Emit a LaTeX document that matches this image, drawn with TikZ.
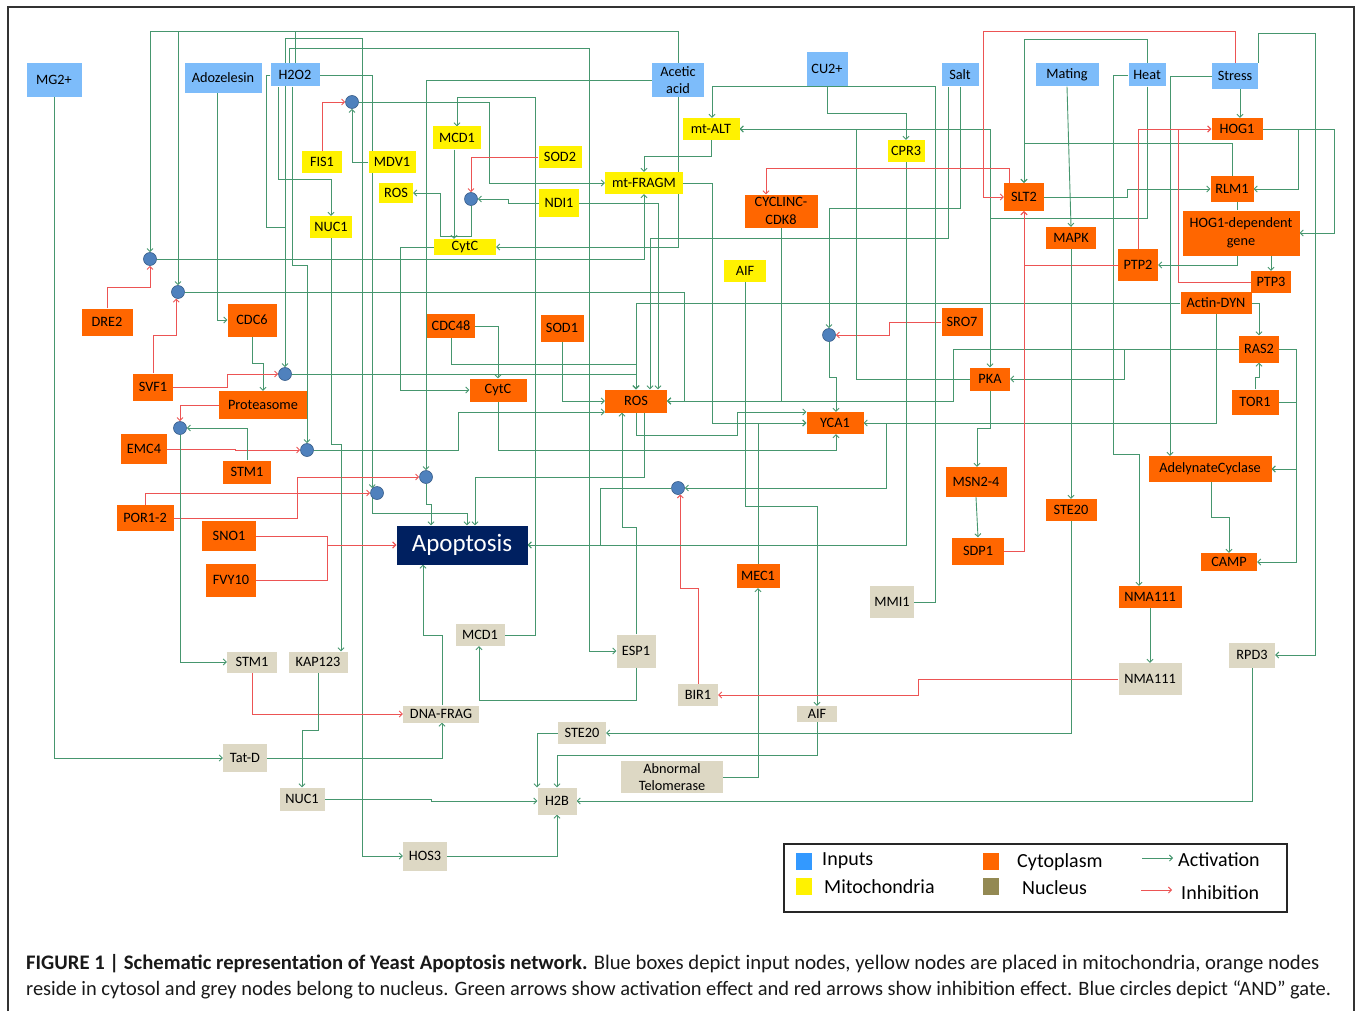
\documentclass[tikz,border=0pt]{standalone}
\usepackage{fontspec}
\setmainfont{Carlito}
\usetikzlibrary{arrows.meta}
\pgfdeclarelayer{bg}
\pgfsetlayers{bg,main}
\definecolor{cInp}{RGB}{125,188,250}
\definecolor{cMit}{RGB}{255,242,0}
\definecolor{cCyt}{RGB}{255,102,0}
\definecolor{cNuc}{RGB}{221,216,196}
\definecolor{cGate}{RGB}{79,129,189}
\definecolor{cGateD}{RGB}{56,93,138}
\definecolor{cAct}{RGB}{70,150,110}
\definecolor{cInh}{RGB}{236,84,84}
\definecolor{cApo}{RGB}{0,32,96}
\definecolor{cLBlue}{RGB}{51,153,255}
\definecolor{cLOlive}{RGB}{147,137,83}
\newcommand\nodefnt{\fontsize{14.3}{17.5}\selectfont}
\begin{document}
\begin{tikzpicture}[x=1pt,y=-1pt,
  nbox/.style={inner sep=0pt, font=\nodefnt, align=center, text=black},
  wh/.style 2 args={minimum width=#1pt, minimum height=#2pt},
  ninp/.style={nbox, fill=cInp},
  nmit/.style={nbox, fill=cMit},
  ncyt/.style={nbox, fill=cCyt},
  nnuc/.style={nbox, fill=cNuc},
  andgate/.style={circle, fill=cGate, draw=cGateD, line width=0.6pt, minimum size=13pt, inner sep=0pt},
  actarr/.style={draw=cAct, line width=0.9pt, -{Straight Barb[length=3pt,width=6pt]}},
  inharr/.style={draw=cInh, line width=0.9pt, -{Straight Barb[length=3pt,width=6pt]}},
  actline/.style={draw=cAct, line width=0.9pt},
  legtxt/.style={anchor=west, inner sep=0pt, font=\fontsize{20}{22}\selectfont, text=black}
]
\useasboundingbox (0,0) rectangle (1356,1011);
\draw[line width=1.3pt, black!80] (8,1011) -- (8,7) -- (1354,7) -- (1354,1011);

% ---------- inputs
\node[ninp, wh={55}{34}] (mg) at (54,80) {MG2+};
\node[ninp, wh={77}{30}] (ado) at (223,78) {Adozelesin};
\node[ninp, wh={49}{23}] (hoo) at (295,75) {H2O2};
\node[ninp, wh={52}{34}] (acet) at (678,80) {Acetic\\acid};
\node[ninp, wh={41}{34}] (cu) at (827,69) {CU2+};
\node[ninp, wh={37}{23}] (salt) at (960,75) {Salt};
\node[ninp, wh={63}{23}] (mating) at (1067,75) {Mating};
\node[ninp, wh={37}{23}] (heat) at (1147,75) {Heat};
\node[ninp, wh={46}{26}] (stress) at (1235,76) {Stress};

% ---------- mitochondria
\node[nmit, wh={40}{22}] (fis) at (322,162) {FIS1};
\node[nmit, wh={47}{22}] (mdv) at (392,162) {MDV1};
\node[nmit, wh={34}{19}] (rosm) at (396,193) {ROS};
\node[nmit, wh={42}{22}] (nucm) at (331,227) {NUC1};
\node[nmit, wh={48}{23}] (mcdm) at (457,138) {MCD1};
\node[nmit, wh={43}{22}] (sod2) at (560,157) {SOD2};
\node[nmit, wh={40}{27}] (ndi) at (559,203) {NDI1};
\node[nmit, wh={78}{22}] (mtf) at (644,183) {mt-FRAGM};
\node[nmit, wh={62}{16}] (cytm) at (465,247) {CytC};
\node[nmit, wh={57}{22}] (mtalt) at (711,129) {mt-ALT};
\node[nmit, wh={37}{22}] (cpr) at (906,151) {CPR3};
\node[nmit, wh={42}{22}] (aifm) at (745,271) {AIF};

% ---------- cytoplasm
\node[ncyt, wh={73}{33}] (cyc) at (781,211) {CYCLINC-\\CDK8};
\node[ncyt, wh={40}{28}] (slt) at (1024,197) {SLT2};
\node[ncyt, wh={51}{22}] (hog) at (1237,129) {HOG1};
\node[ncyt, wh={43}{26}] (rlm) at (1232,189) {RLM1};
\node[ncyt, wh={117}{45}] (hogd) at (1241,233) {HOG1-dependent\\gene};
\node[ncyt, wh={50}{22}] (mapk) at (1071,238) {MAPK};
\node[ncyt, wh={40}{32}] (ptp2) at (1138,265) {PTP2};
\node[ncyt, wh={40}{22}] (ptp3) at (1271,282) {PTP3};
\node[ncyt, wh={71}{22}] (actin) at (1216,303) {Actin-DYN};
\node[ncyt, wh={41}{28}] (sro) at (962,322) {SRO7};
\node[ncyt, wh={40}{27}] (ras) at (1259,349) {RAS2};
\node[ncyt, wh={40}{23}] (pka) at (990,379) {PKA};
\node[ncyt, wh={47}{25}] (tor) at (1255,402) {TOR1};
\node[ncyt, wh={61}{30}] (msn) at (976,482) {MSN2-4};
\node[ncyt, wh={123}{26}] (adc) at (1210,469) {AdelynateCyclase};
\node[ncyt, wh={51}{22}] (ste20c) at (1071,510) {STE20};
\node[ncyt, wh={52}{27}] (sdp) at (978,551) {SDP1};
\node[ncyt, wh={56}{18}] (camp) at (1229,562) {CAMP};
\node[ncyt, wh={63}{22}] (nmac) at (1150,597) {NMA111};
\node[ncyt, wh={43}{24}] (mec) at (758,576) {MEC1};
\node[ncyt, wh={62}{23}] (rosc) at (636,401) {ROS};
\node[ncyt, wh={57}{22}] (yca) at (835,423) {YCA1};
\node[ncyt, wh={57}{23}] (cytc) at (498,390) {CytC};
\node[ncyt, wh={43}{27}] (sod1) at (562,328) {SOD1};
\node[ncyt, wh={48}{24}] (cdc48) at (451,326) {CDC48};
\node[ncyt, wh={49}{33}] (cdc6) at (252,320) {CDC6};
\node[ncyt, wh={51}{27}] (dre) at (107,322) {DRE2};
\node[ncyt, wh={40}{27}] (svf) at (153,387) {SVF1};
\node[ncyt, wh={88}{28}] (prot) at (263,405) {Proteasome};
\node[ncyt, wh={46}{30}] (emc) at (144,449) {EMC4};
\node[ncyt, wh={48}{23}] (stmc) at (247,472) {STM1};
\node[ncyt, wh={57}{26}] (por) at (145,518) {POR1-2};
\node[ncyt, wh={54}{30}] (sno) at (229,536) {SNO1};
\node[ncyt, wh={50}{33}] (fvy) at (231,580) {FVY10};

\node[nbox, fill=cApo, text=white, wh={131}{39}, font=\fontsize{25}{27}\selectfont] (apo) at (462,545) {Apoptosis};

% ---------- nucleus
\node[nnuc, wh={50}{21}] (stmn) at (252,662) {STM1};
\node[nnuc, wh={59}{21}] (kap) at (318,662) {KAP123};
\node[nnuc, wh={76}{17}] (dna) at (441,714) {DNA-FRAG};
\node[nnuc, wh={44}{28}] (tatd) at (245,758) {Tat-D};
\node[nnuc, wh={45}{23}] (nucn) at (302,799) {NUC1};
\node[nnuc, wh={44}{29}] (hos) at (425,856) {HOS3};
\node[nnuc, wh={49}{22}] (mcdn) at (480,635) {MCD1};
\node[nnuc, wh={39}{33}] (esp) at (636,651) {ESP1};
\node[nnuc, wh={40}{22}] (bir) at (698,695) {BIR1};
\node[nnuc, wh={40}{16}] (aifn) at (817,714) {AIF};
\node[nnuc, wh={48}{22}] (ste20n) at (582,733) {STE20};
\node[nnuc, wh={102}{32}] (abn) at (672,777) {Abnormal\\Telomerase};
\node[nnuc, wh={39}{27}] (h2b) at (557,801) {H2B};
\node[nnuc, wh={44}{32}] (mmi) at (892,602) {MMI1};
\node[nnuc, wh={63}{32}] (naman) at (1150,679) {NMA111};
\node[nnuc, wh={46}{25}] (rpd) at (1252,655) {RPD3};

% ---------- AND gates
\node[andgate] (g1) at (352,102) {};
\node[andgate] (g2) at (471,199) {};
\node[andgate] (g3) at (150,259) {};
\node[andgate] (g4) at (178,292) {};
\node[andgate] (g5) at (285,374) {};
\node[andgate] (g6) at (180,428) {};
\node[andgate] (g7) at (307,450) {};
\node[andgate] (g8) at (426,477) {};
\node[andgate] (g9) at (377,493) {};
\node[andgate] (g10) at (829,335) {};
\node[andgate] (g11) at (678,488) {};

% ---------- connectors
\begin{pgfonlayer}{bg}
\draw[actarr] (acet.north) |- (150,31) -- (g3.north);
\draw[actarr] (hoo.north) |- (178,31) -- (g4.north);
\draw[inharr] (dre.north) |- (150,287) -- (g3.south);
\draw[inharr] (svf.north) |- (g4.-105 |- 0,335) -- (g4.-105);
\draw[actarr] (g3.east) -| (mtf.south);
\draw[actarr] (g4.east) -| (684,401) -- (rosc.east);
\draw[actarr] (ado.south -| 217,0) |- (cdc6.west);
\draw[actarr] (cdc6.south) |- (263,363) -- (prot.north);
\draw[inharr] (svf.east) -| (227,374) -- (g5.west);
\draw[actarr] (hoo.west) -| (266,227) -| (g5.north);
\draw[actarr] (hoo.west) -| (266,227) -- (285,227) |- (362,38) |- (hos.west);
\draw[actarr] (hoo.north -| 289,0) |- (589,48) |- (esp.west);
\draw[actarr] (hoo.south -| 278,0) |- (331,179) -- (nucm.north);
\draw[actarr] (hoo.south -| 292,0) |- (307,265) -- (g7.north);
\draw[actarr] (hoo.east) -| (g9.north west);
\draw[inharr] (fis.north) |- (g1.west);
\draw[actarr] (mdv.west) -| (g1.south);
\draw[actarr] (g1.east) -| (489,183) -- (mtf.west);
\draw[actarr] (mcdn.east) -| (535,97) -| (mcdm.north);
\draw[actarr] (mcdm.south -| 454,0) -- (cytm.north -| 454,0);
\draw[inharr] (sod2.west) -| (g2.north);
\draw[actarr] (ndi.west) -- (508,203) |- (g2.east);
\draw[actarr] (g2.south) |- (440,236) |- (rosm.east);
\draw[actarr] (ndi.east) -| (rosc.north -| 658,0);
\draw[actarr] (mtalt.south) |- (644,156) -- (mtf.north);
\draw[actarr] (mtf.east) -| (712,423) -- (yca.west);
\draw[actarr] (acet.south) |- (cytm.east);
\draw[actarr] (acet.west) -| (g8.north);
\draw[inharr] (por.east) -| (297,477) -- (g8.west);
\draw[inharr] (por.north) |- (g9.west);
\draw[actarr] (g8.south) |- (431,504) -- (apo.north -| 431,0);
\draw[actarr] (g9.south west) |- (467,513) -- (apo.north -| 467,0);
\draw[actarr] (rosc.south -| 644,0) |- (475,477) -- (apo.north -| 475,0);
\draw[actarr] (salt.south -| 948,0) |- (650,238) -- (rosc.north -| 650,0);
\draw[actarr] (salt.south) |- (829,208) -- (g10.north);
\draw[inharr] (sro.west) -| (889,335) -- (g10.east);
\draw[actarr] (g10.south) |- (836,377) -- (yca.north -| 836,0);
\draw[actarr] (cytc.south) |- (836,450) -- (yca.south -| 836,0);
\draw[actarr] (cytm.west) -| (400,390) -- (cytc.west);
\draw[actarr] (cdc48.east) -| (cytc.north);
\draw[actarr] (cdc48.south) |- (636,364) -- (rosc.north -| 636,0);
\draw[actarr] (g5.east) -| (rosc.north -| 636,0);
\draw[actarr] (actin.west) -| (rosc.north -| 636,0);
\draw[actarr] (sod1.south) |- (rosc.west);
\draw[actarr] (g7.east) -| (458,412) -- (rosc.west |- 0,412);
\draw[inharr] (emc.east) -- (235,449) |- (g7.west);
\draw[actarr] (rosc.south) |- (737,435) |- (yca.west |- 0,412);
\draw[actarr] (esp.north) |- (622,527) -- (rosc.south -| 622,0);
\draw[actarr] (esp.south) |- (479,700) -- (mcdn.south -| 479,0);
\draw[actarr] (actin.south) |- (yca.east);
\draw[actarr] (actin.south) |- (886,423) |- (g11.east);
\draw[inharr] (bir.north) |- (g11.-70 |- 0,588) -- (g11.-70);
\draw[actarr] (g11.west) -| (600,545) -- (apo.east);
\draw[actarr] (cpr.south) |- (apo.east);
\draw[actarr] (cu.south) |- (906,113) -- (cpr.north);
\draw[actarr] (mmi.east) -| (935,86) -| (mtalt.north -| 712,0);
\draw[actarr] (cyc.south) |- (rosc.east);
\draw[actarr] (ras.west) -| (953,401) -- (rosc.east);
\draw[actarr] (ras.west) -| (1124,379) -- (pka.east);
\draw[actarr] (pka.west) -| (856,129) -- (mtalt.east);
\draw[actarr] (heat.south) |- (990,218) -- (pka.north);
\draw[actarr] (heat.south) |- (990,218) |- (mtalt.east);
\draw[actarr] (heat.north) |- (1024,39) -- (slt.north);
\draw[actarr] (rlm.north) |- (1024,143) -- (slt.north);
\draw[actarr] (heat.west) -| (1113,454) -| (nmac.north -| 1139,0);
\draw[inharr] (stress.north) |- (983,31) |- (slt.west);
\draw[actarr] (stress.south -| 1240,0) -- (hog.north -| 1240,0);
\draw[actarr] (stress.west) -| (adc.north -| 1170,0);
\draw[actarr] (stress.north -| 1258,0) |- (1315,33) |- (rpd.east);
\draw[actarr] (slt.east) -- (1127,197) |- (rlm.west);
\draw[inharr] (slt.north -| 1009,0) |- (766,168) -- (cyc.north -| 766,0);
\draw[inharr] (ptp2.west) -| (slt.south);
\draw[inharr] (sdp.east) -| (slt.south);
\draw[inharr] (ptp2.north) |- (hog.west);
\draw[inharr] (ptp3.west) -| (1178,129) -- (hog.west);
\draw[actarr] (hog.east) -| (1298,189) -- (rlm.east);
\draw[actarr] (hog.east) -| (1334,233) -- (hogd.east);
\draw[actline] (rlm.south -| 1237,0) -- (hogd.north -| 1237,0);
\draw[actarr] (hogd.south -| 1237,0) |- (ptp2.east);
\draw[actarr] (hogd.south -| 1271,0) -- (ptp3.north);
\draw[actarr] (actin.east) -| (ras.north);
\draw[actarr] (tor.north) |- (1259,377) -- (ras.south);
\draw[actarr] (ras.east) -| (1296,469) -- (adc.east);
\draw[actarr] (ras.east) -| (1296,562) -- (camp.east);
\draw[actarr] (tor.east) -| (1296,469) -- (adc.east);
\draw[actarr] (adc.south -| 1211,0) |- (1229,517) -- (camp.north);
\draw[actarr] (mating.south) -- (mapk.north);
\draw[actarr] (mapk.south) -- (ste20c.north);
\draw[actarr] (pka.south) |- (977,428) -- (msn.north -| 977,0);
\draw[actarr] (msn.south) -- (sdp.north);
\draw[actarr] (ste20c.south) |- (ste20n.east);
\draw[actarr] (ste20n.west) -| (h2b.north -| 537,0);
\draw[actarr] (aifm.south) |- (817,506) -- (aifn.north);
\draw[actarr] (aifn.south) |- (557,755) -- (h2b.north);
\draw[actarr] (abn.east) -| (mec.south);
\draw[actarr] (mec.north) |- (yca.west);
\draw[actarr] (nucn.east) -| (431,801) -- (h2b.west);
\draw[actarr] (hos.east) -| (h2b.south);
\draw[actarr] (rpd.south) |- (h2b.east);
\draw[actarr] (nmac.south) -- (naman.north);
\draw[inharr] (naman.west) -| (918,695) -- (bir.east);
\draw[actarr] (mg.south) |- (tatd.west);
\draw[actarr] (tatd.east) -| (dna.south -| 442,0);
\draw[inharr] (stmn.south) |- (dna.west);
\draw[actarr] (kap.south) |- (302,730) -- (nucn.north);
\draw[actarr] (nucm.south) |- (341,444) -- (kap.north -| 341,0);
\draw[actarr] (dna.north -| 442,0) |- (423,635) -- (apo.south -| 423,0);
\draw[inharr] (sno.east) -| (327,545) -- (apo.west);
\draw[inharr] (fvy.east) -| (327,545) -- (apo.west);
\draw[actarr] (g6.south) |- (stmn.west);
\draw[inharr] (prot.west) -| (g6.north);
\draw[actarr] (stmc.north) |- (g6.east);
\end{pgfonlayer}

% ---------- legend
\node[draw=black!85, line width=1.3pt, wh={503}{68}, inner sep=0pt] (legend) at (1035.5,878) {};
\node[fill=cLBlue, wh={16}{17}, inner sep=0pt] (lk1) at (804,861) {};
\node[fill=cMit, wh={16}{17}, inner sep=0pt] (lk2) at (804,886) {};
\node[fill=cCyt, wh={16}{17}, inner sep=0pt] (lk3) at (991,861) {};
\node[fill=cLOlive, wh={16}{17}, inner sep=0pt] (lk4) at (991,886) {};
\node[legtxt] (lt1) at (822,861) {Inputs};
\node[legtxt] (lt2) at (824,887) {Mitochondria};
\node[legtxt] (lt3) at (1017,862) {Cytoplasm};
\node[legtxt] (lt4) at (1022,888) {Nucleus};
\node[legtxt] (lt5) at (1178,860) {Activation};
\node[legtxt] (lt6) at (1181,893) {Inhibition};
\coordinate (la1) at (1142,858);
\coordinate (la2) at (1173,858);
\coordinate (li1) at (1141,890);
\coordinate (li2) at (1172,890);
\draw[actarr] (la1) -- (la2);
\draw[inharr] (li1) -- (li2);

% ---------- caption
\node[anchor=west, inner sep=0pt, text=black!90] (cap1) at (26,964) {\resizebox{1293pt}{!}{\fontsize{19}{21}\selectfont\textbf{FIGURE 1 | Schematic representation of Yeast Apoptosis network.} Blue boxes depict input nodes, yellow nodes are placed in mitochondria, orange nodes}};
\node[anchor=west, inner sep=0pt, text=black!90] (cap2) at (26,990) {\resizebox{1305pt}{!}{\fontsize{19}{21}\selectfont reside in cytosol and grey nodes belong to nucleus. Green arrows show activation effect and red arrows show inhibition effect. Blue circles depict “AND” gate.}};
\end{tikzpicture}
\end{document}
